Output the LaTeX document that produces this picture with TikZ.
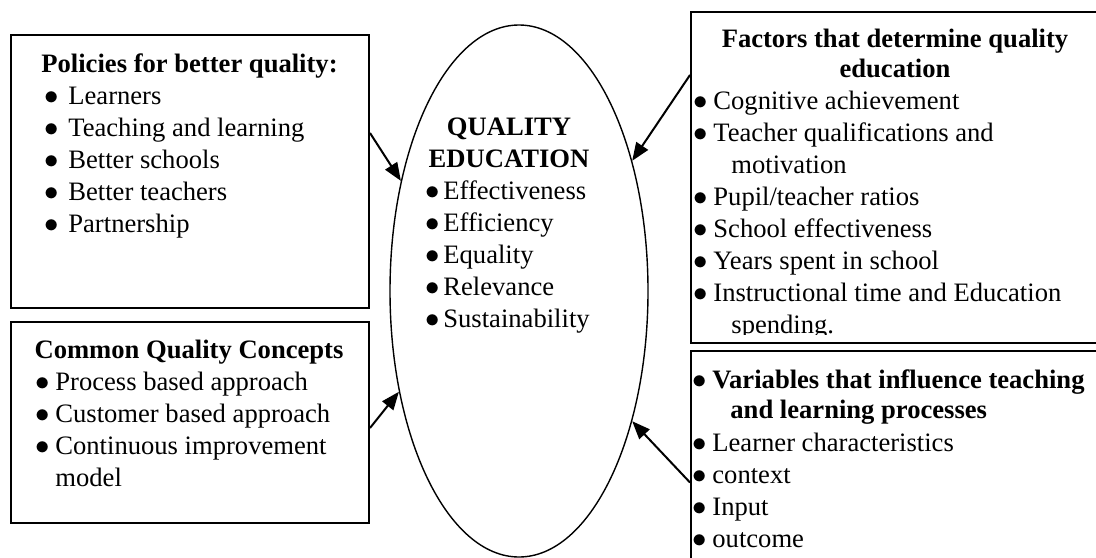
\documentclass[tikz,border=0pt]{standalone}
\usepackage{fontspec}
\setmainfont{Liberation Serif}
\usetikzlibrary{arrows.meta,shapes.geometric}

\newcommand{\blt}[2]{\makebox[#1][l]{$\bullet$}#2}

\begin{document}
\begin{tikzpicture}[
    x=0.5pt, y=-0.5pt,
    every node/.style={font=\fontsize{13.3}{16}\selectfont, inner sep=0pt},
    panel/.style={draw, line width=1pt, inner sep=0pt, minimum width=179pt},
    sidepanel/.style={draw, line width=1pt, inner sep=0pt, minimum width=209.5pt},
    oval/.style={draw, ellipse, line width=0.7pt, inner sep=0pt, minimum width=129pt, minimum height=266pt},
    head/.style={font=\fontsize{13.3}{16}\selectfont\bfseries, align=center},
    items/.style={align=left, anchor=base west},
    arrow/.style={-{Triangle[length=9pt, width=7pt]}, line width=1pt}
]
\useasboundingbox (0,0) rectangle (1096,557);
\clip (0,0) rectangle (1096,557);

% left boxes
\node[panel, minimum height=136.5pt] (policies) at (190,171.5) {};
\node[panel, minimum height=100.5pt] (common) at (190,422.5) {};

% (multi-line nodes sit on the baseline of their last line)
\node[head, anchor=base west] (poltitle) at (41,72) {Policies for better quality:};
\node[items] (pollist) at (44.5,232) {\blt{11.75pt}{Learners}\\
  \blt{11.75pt}{Teaching and learning}\\
  \blt{11.75pt}{Better schools}\\
  \blt{11.75pt}{Better teachers}\\
  \blt{11.75pt}{Partnership}};

\node[head, anchor=base] (comtitle) at (189,358) {Common Quality Concepts};
\node[items] (comlist) at (35.5,486) {\blt{9.75pt}{Process based approach}\\
  \blt{9.75pt}{Customer based approach}\\
  \blt{9.75pt}{Continuous improvement}\\
  \hspace*{9.75pt}model};

% centre
\node[oval] (quality) at (519,291) {};
\node[head, anchor=base] (qtitle) at (509,167) {QUALITY\\EDUCATION};
\node[items] (qlist) at (425.5,327) {\blt{8.75pt}{Effectiveness}\\
  \blt{8.75pt}{Efficiency}\\
  \blt{8.75pt}{Equality}\\
  \blt{8.75pt}{Relevance}\\
  \blt{8.75pt}{Sustainability}};

% right boxes
\node[sidepanel, minimum height=165.5pt] (factors) at (900.5,177.5) {};
\node[sidepanel, minimum height=114pt] (variables) at (900.5,465) {};

\node[head, anchor=base] (factitle) at (895,77) {Factors that determine quality\\[-1pt]education};
\begin{scope}
\clip (691,12) rectangle (1096,334.5);
\node[items] (faclist) at (693.5,333) {\blt{9.75pt}{Cognitive achievement}\\
  \blt{9.75pt}{Teacher qualifications and}\\
  \hspace*{18.75pt}motivation\\
  \blt{9.75pt}{Pupil/teacher ratios}\\
  \blt{9.75pt}{School effectiveness}\\
  \blt{9.75pt}{Years spent in school}\\
  \blt{9.75pt}{Instructional time and Education}\\
  \hspace*{18.75pt}spending.};
\end{scope}

\node[items] (varlist) at (692.5,547) {\blt{9.75pt}{\textbf{Variables that influence teaching}}\\[-1pt]
  \hspace*{18.75pt}\textbf{and learning processes}\\[0.5pt]
  \blt{9.75pt}{Learner characteristics}\\
  \blt{9.75pt}{context}\\
  \blt{9.75pt}{Input}\\
  \blt{9.75pt}{outcome}};

\draw[arrow] ([yshift=19.25pt]policies.east) -- (quality.137.5);
\draw[arrow] ([yshift=-2.75pt]common.east) -- (quality.220.3);
\draw[arrow] ([yshift=51.25pt]factors.west) -- (quality.49.5);
\draw[arrow] ([yshift=-8.75pt]variables.west) -- (quality.311.4);
\end{tikzpicture}
\end{document}
